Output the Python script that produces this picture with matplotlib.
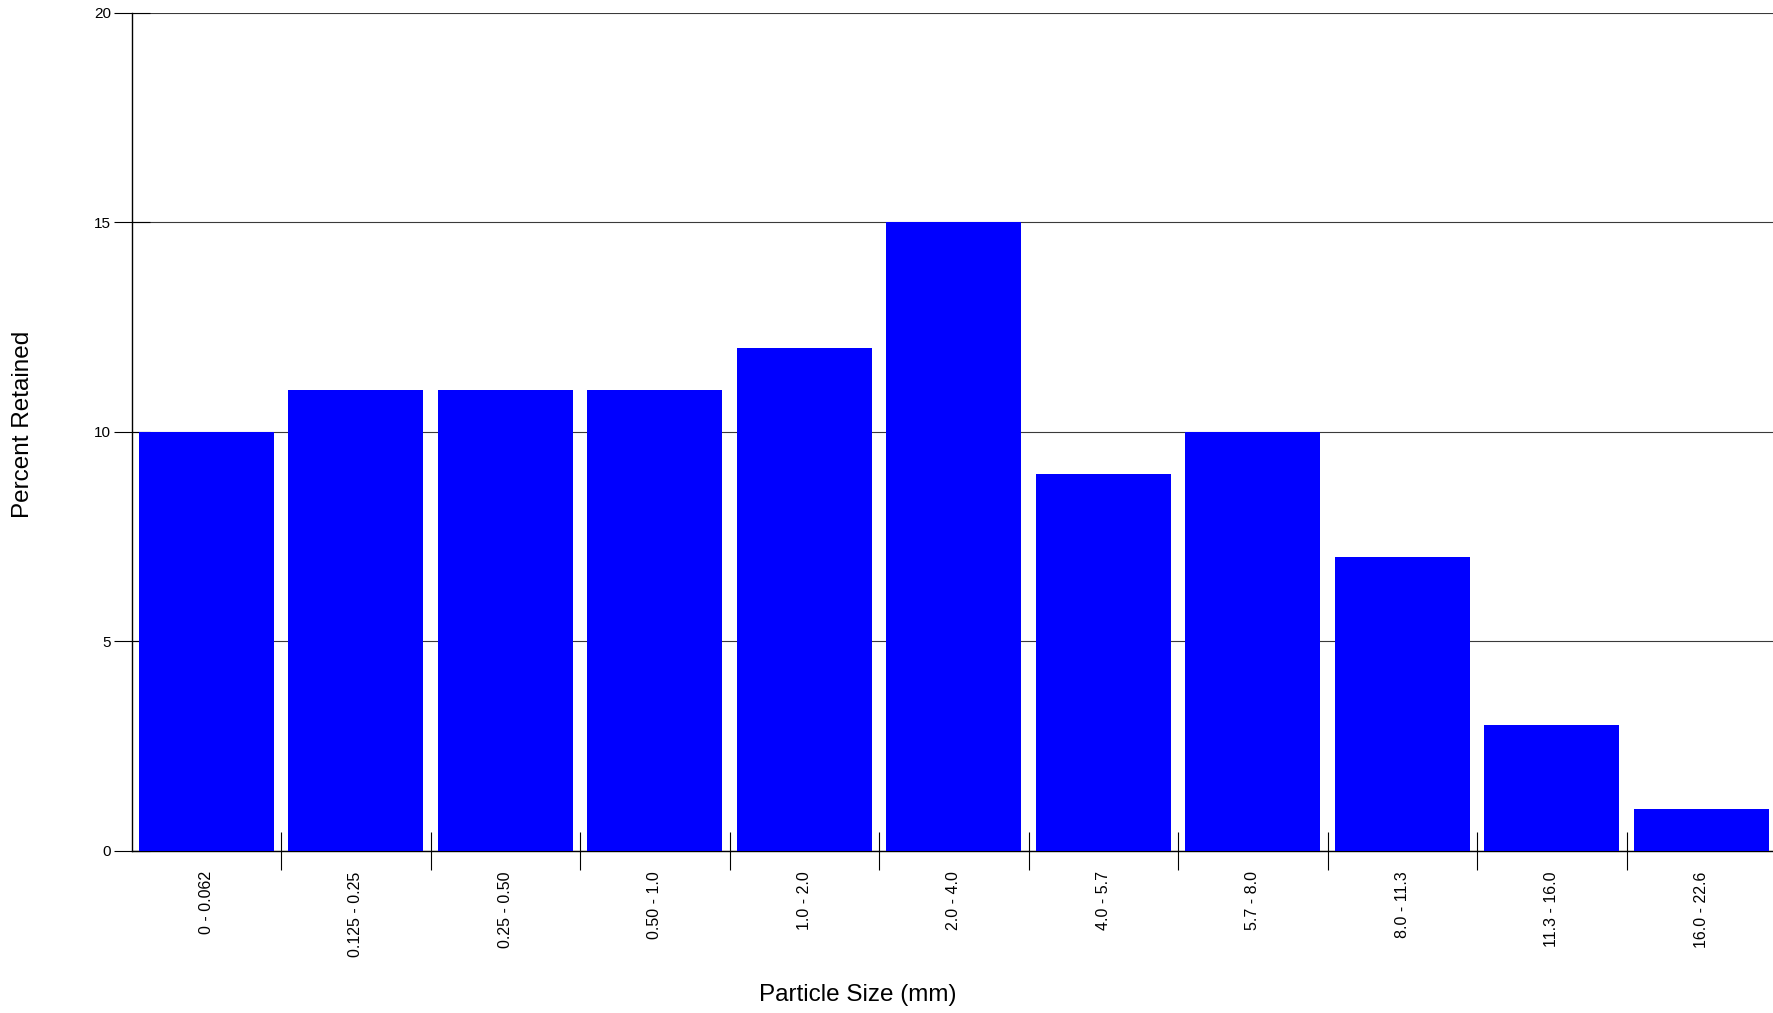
import matplotlib
matplotlib.use("Agg")
import matplotlib.pyplot as plt
import numpy as np

categories = ["0 - 0.062", "0.125 - 0.25", "0.25 - 0.50", "0.50 - 1.0", "1.0 - 2.0",
              "2.0 - 4.0", "4.0 - 5.7", "5.7 - 8.0", "8.0 - 11.3", "11.3 - 16.0", "16.0 - 22.6"]
percent_retained = [10, 11, 11, 11, 12, 15, 9, 10, 7, 3, 1]
y_ticks = [0, 5, 10, 15, 20]

plt.rcParams['font.family'] = ['Liberation Sans', 'DejaVu Sans']

W, H = 1773, 1013
fig = plt.figure(figsize=(W / 100, H / 100), dpi=100)
left_px, right_px, top_px, bottom_px = 131.5, 1776.0, 13.0, 850.5
ax = fig.add_axes([left_px / W, (H - bottom_px) / H,
                   (right_px - left_px) / W, (bottom_px - top_px) / H])

n = len(categories)
centers = np.arange(n) + 0.5
ax.bar(centers, percent_retained, width=0.905, color='#0000FF', edgecolor='none', zorder=3)

ax.set_xlim(0, n)
ax.set_ylim(0, 20)

# y axis
ax.set_yticks(y_ticks)
ax.set_yticklabels([str(v) for v in y_ticks], fontsize=11)
ax.tick_params(axis='y', direction='inout', length=26.5, width=0.8, pad=1.5, color='black')
ax.yaxis.grid(True, color='#3a3a3a', linewidth=0.8, zorder=1)
ax.set_axisbelow(True)

# x axis: boundary ticks (major), labels at centers (minor)
ax.set_xticks(np.arange(1, n))
ax.set_xticklabels([])
ax.tick_params(axis='x', which='major', direction='inout', length=27, width=0.8, color='black')
ax.set_xticks(centers, minor=True)
ax.set_xticklabels(categories, minor=True, rotation=90, fontsize=11.5, va='top', ha='center')
ax.tick_params(axis='x', which='minor', length=0, pad=15)

for s in ['top', 'right']:
    ax.spines[s].set_visible(False)
for s in ['left', 'bottom']:
    ax.spines[s].set_color('black')
    ax.spines[s].set_linewidth(1.0)

fig.text(23 / W, 1 - 424 / H, "Percent Retained", rotation=90, ha='center', va='center', fontsize=17.5)
fig.text(858 / W, 1 - 995 / H, "Particle Size (mm)", ha='center', va='center', fontsize=17.5)

fig.savefig("out.png", dpi=100, facecolor='white')
